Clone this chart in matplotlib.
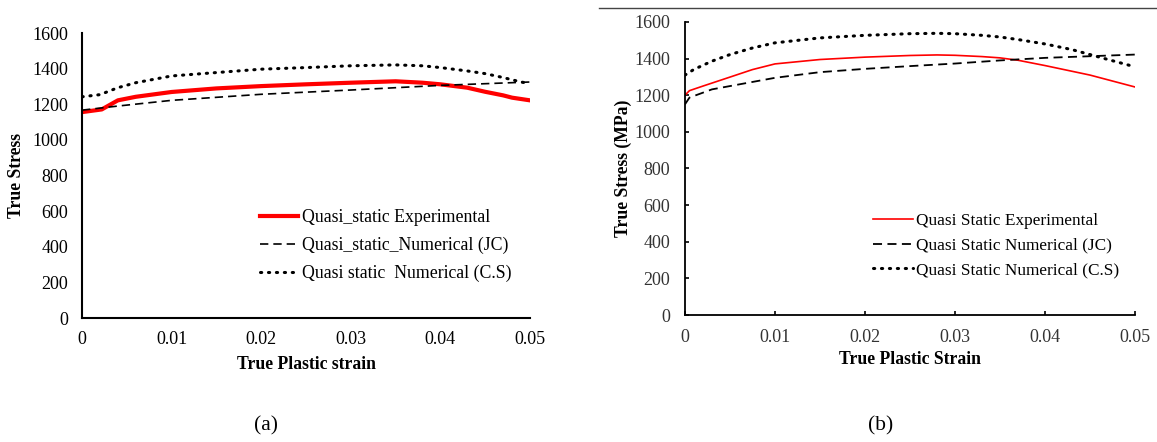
import matplotlib
matplotlib.use("Agg")
import matplotlib.pyplot as plt
from matplotlib.lines import Line2D

plt.rcParams["font.family"] = ["Liberation Serif", "DejaVu Serif"]

# ---- panel (a) data ----
strain_a_exp = [0, 0.0022, 0.004, 0.006, 0.01, 0.015, 0.02, 0.025, 0.03, 0.035,
                0.038, 0.04, 0.043, 0.045, 0.047, 0.048, 0.05]
stress_a_exp = [1156, 1171, 1222, 1242, 1269, 1289, 1302, 1312, 1321, 1329,
                1321, 1312, 1293, 1270, 1250, 1237, 1222]
strain_a_jc = [0, 0.004, 0.01, 0.02, 0.03, 0.04, 0.05]
stress_a_jc = [1167, 1190, 1222, 1256, 1280, 1306, 1325]
strain_a_cs = [0, 0.002, 0.004, 0.006, 0.01, 0.015, 0.02, 0.025, 0.03, 0.035,
               0.038, 0.04, 0.043, 0.045, 0.047, 0.049, 0.05]
stress_a_cs = [1242, 1254, 1293, 1321, 1359, 1378, 1397, 1406, 1416, 1421,
               1416, 1406, 1387, 1372, 1350, 1325, 1316]

# ---- panel (b) data ----
strain_b_exp = [0, 0.0005, 0.002, 0.005, 0.0075, 0.01, 0.015, 0.02, 0.025, 0.028,
                0.03, 0.033, 0.035, 0.037, 0.04, 0.045, 0.05]
stress_b_exp = [1200, 1225, 1250, 1299, 1340, 1371, 1395, 1408, 1417, 1420,
                1418, 1411, 1404, 1391, 1362, 1310, 1245]
strain_b_jc = [0, 0.0005, 0.003, 0.005, 0.01, 0.015, 0.02, 0.025, 0.03, 0.035,
               0.04, 0.045, 0.05]
stress_b_jc = [1150, 1187, 1232, 1250, 1295, 1326, 1344, 1359, 1373, 1390,
               1404, 1413, 1422]
strain_b_cs = [0, 0.001, 0.003, 0.005, 0.0075, 0.01, 0.015, 0.02, 0.025, 0.028,
               0.03, 0.033, 0.035, 0.037, 0.04, 0.043, 0.045, 0.047, 0.05]
stress_b_cs = [1310, 1341, 1386, 1422, 1458, 1486, 1513, 1527, 1536, 1538,
               1536, 1527, 1518, 1504, 1480, 1449, 1422, 1395, 1355]

xticks = [0, 0.01, 0.02, 0.03, 0.04, 0.05]
xtick_labels = ["0", "0.01", "0.02", "0.03", "0.04", "0.05"]
yticks = list(range(0, 1601, 200))

fig = plt.figure(figsize=(11.57, 4.42), dpi=100)

# ---------------- panel (a) ----------------
ax1 = fig.add_axes([0.0709, 0.2805, 0.3872, 0.6448])
ax1.plot(strain_a_exp, stress_a_exp, color="#ff0000", lw=3.0,
         label="Quasi_static Experimental")
ax1.plot(strain_a_jc, stress_a_jc, color="black", lw=1.2, dashes=(5, 3),
         label="Quasi_static_Numerical (JC)")
ax1.plot(strain_a_cs, stress_a_cs, color="black", lw=2.2, linestyle=(0, (0.4, 2.2)),
         dash_capstyle="round", label="Quasi static  Numerical (C.S)")
ax1.set_xlim(0, 0.05)
ax1.set_ylim(0, 1600)
ax1.set_xticks(xticks)
ax1.set_xticklabels(xtick_labels)
ax1.set_yticks(yticks)
ax1.tick_params(length=0, labelsize=13, pad=9)
ax1.tick_params(axis="y", pad=10)
for s in ["top", "right"]:
    ax1.spines[s].set_visible(False)
for s in ["left", "bottom"]:
    ax1.spines[s].set_linewidth(1.5)
ax1.set_xlabel("True Plastic strain", fontsize=12.7, fontweight="bold", labelpad=6)
ax1.set_ylabel("True Stress", fontsize=12.7, fontweight="bold", labelpad=5)
ax1.legend(loc="upper left", bbox_to_anchor=(0.397, 0.382), frameon=False,
           fontsize=12.8, handlelength=2.15, handletextpad=0.22, labelspacing=0.6,
           borderpad=0, borderaxespad=0)

# ---------------- panel (b) ----------------
ax2 = fig.add_axes([0.592, 0.2873, 0.389, 0.663])
ax2.plot(strain_b_exp, stress_b_exp, color="#ff0000", lw=1.2,
         label="Quasi Static Experimental")
ax2.plot(strain_b_jc, stress_b_jc, color="black", lw=1.3, dashes=(5, 3),
         label="Quasi Static Numerical (JC)")
ax2.plot(strain_b_cs, stress_b_cs, color="black", lw=2.2, linestyle=(0, (0.4, 2.2)),
         dash_capstyle="round", label="Quasi Static Numerical (C.S)")
ax2.set_xlim(0, 0.05)
ax2.set_ylim(0, 1600)
ax2.set_xticks(xticks)
ax2.set_xticklabels(xtick_labels)
ax2.set_yticks(yticks)
ax2.tick_params(direction="in", length=3, width=1.2, labelsize=13, pad=10,
                colors="black", labelcolor="#333333")
ax2.tick_params(axis="y", pad=10.5)
for s in ["top", "right"]:
    ax2.spines[s].set_visible(False)
for s in ["left", "bottom"]:
    ax2.spines[s].set_linewidth(1.3)
ax2.set_xlabel("True Plastic Strain", fontsize=12.7, fontweight="bold", labelpad=4)
ax2.set_ylabel("True Stress (MPa)", fontsize=12.7, fontweight="bold", labelpad=1.5)
ax2.legend(loc="upper left", bbox_to_anchor=(0.418, 0.348), frameon=False,
           fontsize=12.4, handlelength=2.3, handletextpad=0.2, labelspacing=0.5,
           borderpad=0, borderaxespad=0)

# separator line above panel (b)
fig.add_artist(Line2D([0.518, 1.0], [0.982, 0.982], color="#444444", lw=1.0,
                      transform=fig.transFigure))

# panel captions
fig.text(0.23, 0.036, "(a)", fontsize=15.5, ha="center", va="center")
fig.text(0.761, 0.036, "(b)", fontsize=15.5, ha="center", va="center")

plt.savefig("out.png", dpi=100)
